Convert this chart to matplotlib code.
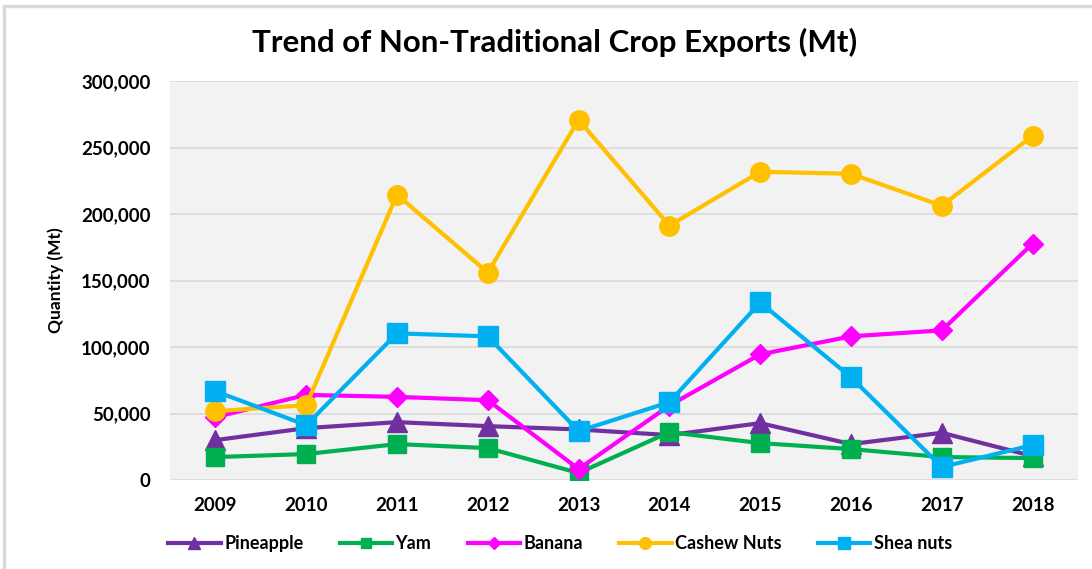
import matplotlib.pyplot as plt
import matplotlib.patches as patches
from matplotlib.ticker import FuncFormatter

years = ['2009', '2010', '2011', '2012', '2013', '2014', '2015', '2016', '2017', '2018']
pineapple = [30000, 39000, 43500, 40500, 38000, 33750, 42750, 27000, 35500, 18000]
yam = [17250, 19500, 27000, 24000, 5250, 36000, 27750, 23250, 17250, 16500]
banana = [47250, 64000, 62500, 60000, 8250, 56000, 94500, 108000, 112500, 177750]
cashew = [51750, 56250, 214500, 156000, 270750, 191250, 231750, 230250, 206250, 258750]
shea = [66750, 41250, 110250, 108000, 36750, 58500, 133500, 77250, 9750, 26250]

plt.rcParams['font.family'] = ['Lato', 'DejaVu Sans']

fig = plt.figure(figsize=(10.92, 5.69), dpi=100)
ax = fig.add_axes([170/1092, 1-480/569, 908/1092, 399/569])
ax.set_facecolor('#F2F2F2')

x = range(len(years))
ax.plot(x, pineapple, color='#7030A0', lw=3, marker='^', ms=14, label='Pineapple', zorder=3)
ax.plot(x, yam, color='#00B050', lw=3, marker='s', ms=13, label='Yam', zorder=3)
ax.plot(x, banana, color='#FF00FF', lw=3, marker='D', ms=10, label='Banana', zorder=3)
ax.plot(x, cashew, color='#FFC000', lw=3, marker='o', ms=14, label='Cashew Nuts', zorder=3)
ax.plot(x, shea, color='#00B0F0', lw=3, marker='s', ms=14, label='Shea nuts', zorder=3)

ax.set_xlim(-0.5, 9.5)
ax.set_ylim(0, 300000)
ax.set_yticks(range(0, 300001, 50000))
ax.yaxis.set_major_formatter(FuncFormatter(lambda v, p: f'{int(v):,}'))
ax.set_xticks(list(x))
ax.set_xticklabels(years)
ax.grid(axis='y', color='#D9D9D9', lw=1.2)
ax.set_axisbelow(True)
for s in ax.spines.values():
    s.set_visible(False)
ax.tick_params(length=0, labelsize=13.5, pad=12)
for lab in ax.get_xticklabels() + ax.get_yticklabels():
    lab.set_fontweight('bold')
ax.tick_params(axis='y', pad=14)

ax.set_ylabel('Quantity (Mt)', fontsize=12.5, fontweight='bold', labelpad=12)
fig.text(0.508, 0.925, 'Trend of Non-Traditional Crop Exports (Mt)', ha='center', va='center',
         fontsize=22.5, fontweight='bold')

fig.legend(loc='center', bbox_to_anchor=(0.513, 0.045), ncol=5, frameon=False,
           prop={'weight': 'bold', 'size': 13}, markerscale=0.6, handlelength=2.9,
           handletextpad=0.2, columnspacing=2.0)

fig.patches.append(patches.Rectangle((4/1092, -0.1), 1.2, 1.1-6/569, transform=fig.transFigure,
                                     fill=False, edgecolor='#D9D9D9', lw=2.5))

fig.savefig('out.png', dpi=100)
